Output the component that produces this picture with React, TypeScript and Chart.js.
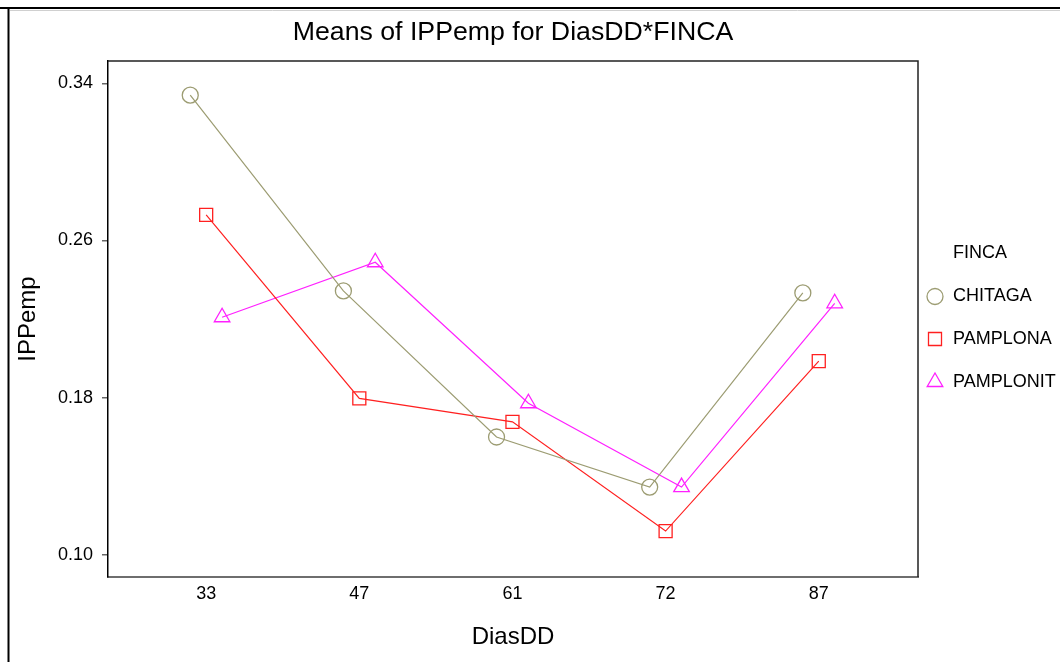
import React, { useEffect, useRef } from "react";
import { Chart, registerables } from "chart.js";

Chart.register(...registerables);

const chartTitle = "Means of IPPemp for DiasDD*FINCA";
const legendTitle = "FINCA";
const categories = ["33", "47", "61", "72", "87"];
const seriesNames = ["CHITAGA", "PAMPLONA", "PAMPLONIT"];
const chitaga = [0.334, 0.2343, 0.1599, 0.1344, 0.2333];
const pamplona = [0.273, 0.1796, 0.1676, 0.112, 0.1985];
const pamplonit = [0.2209, 0.2489, 0.1771, 0.1344, 0.228];
const yTicks = [0.1, 0.18, 0.26, 0.34];

const FONT = "'Liberation Sans', Arial, sans-serif";
const colors = ["#9c9c72", "#ff2020", "#ff20ff"];
const pointStyles = ["circle", "rect", "triangle"];
const pointRadii = [8, 9.2, 9];
const dodge = [-0.104, 0, 0.104];

function drawMarker(ctx: CanvasRenderingContext2D, style: string, x: number, y: number, r: number) {
  ctx.beginPath();
  if (style === "circle") {
    ctx.arc(x, y, r, 0, Math.PI * 2);
  } else if (style === "rect") {
    const s = r * Math.SQRT1_2;
    ctx.rect(x - s, y - s, 2 * s, 2 * s);
  } else {
    const w = r * Math.sin(Math.PI / 3);
    ctx.moveTo(x, y - r);
    ctx.lineTo(x + w, y + r / 2);
    ctx.lineTo(x - w, y + r / 2);
    ctx.closePath();
  }
  ctx.stroke();
}

const framePlugin = {
  id: "frameAndLegend",
  beforeDraw(chart: any) {
    const ctx = chart.ctx as CanvasRenderingContext2D;
    ctx.save();
    ctx.fillStyle = "#ffffff";
    ctx.fillRect(0, 0, chart.width, chart.height);
    ctx.strokeStyle = "#000";
    ctx.lineWidth = 2;
    ctx.beginPath();
    ctx.moveTo(0, 8);
    ctx.lineTo(chart.width, 8);
    ctx.moveTo(8.5, 8);
    ctx.lineTo(8.5, chart.height);
    ctx.stroke();
    ctx.strokeStyle = "#d0d0d0";
    ctx.lineWidth = 1;
    ctx.beginPath();
    ctx.moveTo(10, 10.5);
    ctx.lineTo(chart.width, 10.5);
    ctx.stroke();
    ctx.restore();
  },
  afterDraw(chart: any) {
    const ctx = chart.ctx as CanvasRenderingContext2D;
    const a = chart.chartArea;
    ctx.save();
    ctx.strokeStyle = "#222";
    ctx.lineWidth = 1.5;
    ctx.beginPath();
    ctx.moveTo(a.left, a.top);
    ctx.lineTo(a.right, a.top);
    ctx.lineTo(a.right, a.bottom);
    ctx.stroke();
    // title
    ctx.fillStyle = "#000";
    ctx.textAlign = "center";
    ctx.textBaseline = "middle";
    ctx.font = `26.7px ${FONT}`;
    ctx.fillText(chartTitle, (a.left + a.right) / 2, 32.5);
    // legend
    const lx = a.right + 17;
    const tx = a.right + 35;
    ctx.font = `18px ${FONT}`;
    ctx.textAlign = "left";
    ctx.fillText(legendTitle, tx, 253);
    const rows = [296.5, 339, 382];
    chart.data.datasets.forEach((ds: any, i: number) => {
      ctx.strokeStyle = ds.borderColor;
      ctx.lineWidth = 1.3;
      drawMarker(ctx, pointStyles[i], lx, rows[i], pointRadii[i]);
      ctx.fillStyle = "#000";
      ctx.fillText(ds.label, tx, rows[i]);
    });
    ctx.restore();
  },
};

export default function App() {
  const ref = useRef<HTMLCanvasElement | null>(null);
  useEffect(() => {
    if (!ref.current) return;
    const all = [chitaga, pamplona, pamplonit];
    const chart = new Chart(ref.current, {
      type: "line",
      data: {
        datasets: all.map((vals, i) => ({
          label: seriesNames[i],
          data: vals.map((v, j) => ({ x: j + dodge[i], y: v })),
          borderColor: colors[i],
          backgroundColor: "rgba(0,0,0,0)",
          borderWidth: 1.2,
          pointStyle: pointStyles[i] as any,
          pointRadius: pointRadii[i],
          pointBorderWidth: 1.3,
          pointBorderColor: colors[i],
          pointBackgroundColor: "rgba(0,0,0,0)",
          tension: 0,
          fill: false,
        })),
      },
      options: {
        animation: false,
        responsive: false,
        layout: { padding: { left: 0, right: 142, top: 61, bottom: 0 } },
        plugins: {
          legend: { display: false },
          tooltip: { enabled: false },
          title: { display: false },
        },
        scales: {
          x: {
            type: "linear",
            min: -0.641,
            max: 4.648,
            afterBuildTicks: (s: any) => {
              s.ticks = categories.map((_, i) => ({ value: i }));
            },
            afterFit: (s: any) => {
              s.height = 85;
            },
            ticks: {
              color: "#000",
              font: { family: FONT, size: 18 },
              padding: 6,
              maxRotation: 0,
              autoSkip: false,
              callback: (v: any) => categories[Math.round(Number(v))] ?? "",
            },
            grid: { display: true, drawOnChartArea: false, drawTicks: false },
            border: { display: true, color: "#6e6e6e", width: 2 },
            title: {
              display: true,
              text: "DiasDD",
              color: "#000",
              font: { family: FONT, size: 24 },
              padding: { top: 0, bottom: 10.6 },
            },
          },
          y: {
            type: "linear",
            min: 0.0886,
            max: 0.3514,
            afterBuildTicks: (s: any) => {
              s.ticks = yTicks.map((v) => ({ value: v }));
            },
            afterFit: (s: any) => {
              s.width = 108;
            },
            ticks: {
              color: "#000",
              font: { family: FONT, size: 18 },
              padding: 9,
              callback: (v: any) => Number(v).toFixed(2),
            },
            grid: { display: true, drawOnChartArea: false, drawTicks: true, tickLength: 6, color: "#666", lineWidth: 1.5 },
            border: { display: true, color: "#000", width: 1.5 },
            title: {
              display: true,
              text: "IPPemp",
              color: "#000",
              font: { family: FONT, size: 24 },
              padding: { top: 14, bottom: 0 },
            },
          },
        },
      },
      plugins: [framePlugin],
    });
    return () => chart.destroy();
  }, []);
  return (
    <div style={{ position: "fixed", left: 0, top: 0, width: 1060, height: 662, background: "#fff" }}>
      <canvas ref={ref} width={1060} height={662} style={{ display: "block" }} />
    </div>
  );
}
